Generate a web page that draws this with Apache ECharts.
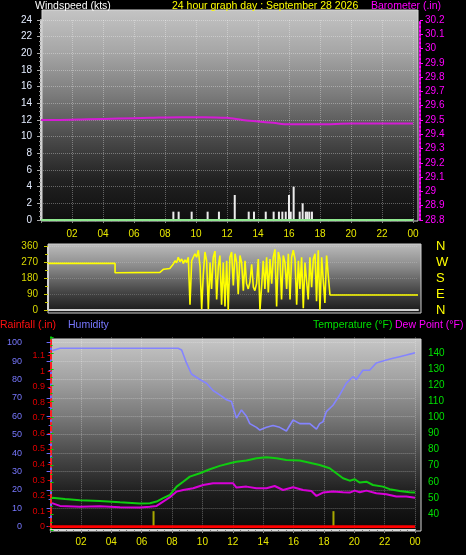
<!DOCTYPE html>
<html><head><meta charset="utf-8">
<script src="https://cdn.jsdelivr.net/npm/echarts@6/dist/echarts.min.js"></script>
<style>html,body{margin:0;padding:0;background:#000;}#c{width:466px;height:555px;}</style>
</head><body><div id="c"></div>
<script>
// ---- tick labels ----
const hourLabels = ['', '02', '04', '06', '08', '10', '12', '14', '16', '18', '20', '22', '00'];
const compassLabels = ['N', 'E', 'S', 'W', 'N']; // 0, 90, 180, 270, 360

// ---- windspeed (kts) ----
const windHours = [8.54, 8.88, 9.72, 10.75, 11.48, 12.5, 13.4, 13.74, 14.5, 15.01, 15.35, 15.57, 15.79, 16.0, 16.11, 16.3, 16.69, 16.88, 17.08, 17.18, 17.31, 17.48];
const windSpeed = [1, 1, 1, 1, 1, 3, 1, 1, 1, 1, 1, 1, 1, 3, 1, 4, 1, 2, 1, 1, 1, 1];
const avgHours = [0, 24];
const avgSpeed = [0, 0];

// ---- barometer (in) ----
const baroHours = [0, 1, 3, 5, 7, 9, 10.5, 12, 13, 14, 15, 16, 17, 18, 20, 22, 24];
const baroValues = [29.50, 29.50, 29.505, 29.51, 29.515, 29.52, 29.52, 29.515, 29.50, 29.49, 29.48, 29.47, 29.47, 29.47, 29.475, 29.475, 29.475];

// ---- wind direction (deg) ----
const dirHours = [0, 4.35, 4.35, 7.26, 7.5, 7.9, 8.13, 8.24, 8.34, 8.45, 8.56, 8.67, 8.78, 8.88, 8.99, 9.10, 9.21, 9.32, 9.42, 9.53, 9.64, 9.75, 9.86, 9.97, 10.07, 10.18, 10.29, 10.40, 10.51, 10.61, 10.72, 10.83, 10.94, 11.05, 11.15, 11.26, 11.37, 11.48, 11.59, 11.69, 11.80, 11.91, 12.02, 12.13, 12.24, 12.34, 12.45, 12.56, 12.67, 12.78, 12.88, 12.99, 13.10, 13.21, 13.32, 13.42, 13.53, 13.64, 13.75, 13.86, 13.96, 14.07, 14.18, 14.29, 14.40, 14.51, 14.61, 14.72, 14.83, 14.94, 15.05, 15.15, 15.26, 15.37, 15.48, 15.59, 15.70, 15.80, 15.91, 16.02, 16.13, 16.24, 16.34, 16.45, 16.56, 16.67, 16.78, 16.88, 16.99, 17.10, 17.21, 17.32, 17.42, 17.53, 17.64, 17.75, 17.86, 17.96, 18.07, 18.18, 18.29, 24];
const dirValues = [265, 265, 212, 214, 232, 236, 262, 280, 268, 300, 275, 290, 265, 285, 270, 300, 30, 280, 290, 320, 300, 340, 250, 5, 200, 330, 280, 5, 270, 120, 300, 335, 60, 250, 310, 30, 270, 20, 280, 0, 300, 330, 140, 320, 270, 90, 310, 270, 110, 280, 150, 120, 160, 260, 130, 110, 150, 290, 0, 140, 280, 120, 300, 100, 290, 150, 300, 345, 20, 330, 290, 60, 310, 270, 120, 320, 60, 300, 340, 290, 30, 280, 120, 300, 10, 270, 280, 60, 300, 130, 290, 320, 50, 340, 0, 300, 290, 40, 310, 320, 85, 85];

// ---- humidity (%) ----
const humHours = [0.09, 0.62, 8.4, 8.63, 8.95, 9.28, 9.83, 10.27, 10.7, 11.14, 11.59, 11.91, 12.24, 12.57, 12.9, 13.12, 13.56, 13.78, 14.22, 14.65, 15.09, 15.53, 15.97, 16.41, 17.07, 17.51, 17.72, 17.94, 18.16, 18.6, 19.04, 19.48, 19.91, 20.14, 20.57, 21.01, 21.45, 21.89, 22.11, 22.55, 22.99, 23.43, 23.86, 24];
const humValues = [95.6, 97, 97, 96, 89, 83, 80, 78, 74, 71.6, 69, 68, 59, 63.4, 60, 56, 54, 52.5, 54, 55, 54, 52, 58, 56, 56, 53, 56, 57, 62.5, 66, 71.6, 78, 81.5, 80, 85, 85, 89, 90, 90.6, 91.5, 92.4, 93.3, 94.2, 94.6];

// ---- temperature (F) ----
const tempHours = [0.09, 0.95, 1.93, 3.25, 4.57, 5.88, 6.54, 6.98, 7.41, 7.86, 8.3, 8.73, 9.17, 9.83, 10.49, 11.14, 11.8, 12.24, 12.9, 13.56, 14.22, 14.88, 15.53, 16.41, 17.07, 17.72, 18.38, 18.82, 19.26, 19.7, 20.03, 20.36, 20.8, 21.23, 21.89, 22.33, 22.99, 23.64, 24];
const tempValues = [50.1, 49.3, 48.5, 48, 47.2, 46.5, 46.7, 47.7, 49.8, 51.8, 57, 60, 63.2, 65.3, 67.8, 69.9, 71.5, 72.5, 73.2, 74.7, 75.3, 74.7, 73.6, 73.2, 71.9, 70.5, 68.4, 65.3, 62.2, 60.7, 61.6, 59.5, 60.1, 58, 57, 55.4, 54.3, 53.5, 53.3];

// ---- dew point (F) ----
const dewHours = [0.09, 0.62, 1.93, 3.25, 4.57, 5.88, 6.54, 6.98, 7.41, 7.86, 8.3, 8.73, 9.39, 10.05, 10.7, 11.36, 12.02, 12.24, 12.9, 13.56, 14.22, 14.76, 15.31, 15.97, 16.63, 17.18, 17.51, 17.94, 18.6, 19.26, 19.7, 20.03, 20.36, 20.8, 21.45, 22.11, 22.77, 23.43, 24];
const dewValues = [46.7, 45, 44.5, 44.8, 44.2, 44, 44.5, 45, 47.7, 50.4, 53.9, 54.9, 56, 58, 59.1, 59.1, 59.1, 56.4, 57, 56, 56, 57.4, 54.9, 56.6, 54.9, 54.3, 51.2, 53.3, 53.9, 53.5, 53.3, 54.5, 53.5, 54.5, 52.9, 52.3, 50.8, 50.8, 50.1];

// ---- rainfall (in) and sunrise / sunset markers ----
const rainHours = [0, 24];
const rainValues = [0, 0];
const sunHours = [6.78, 18.63];
const sunMarkValue = [0.1, 0.1];

const zip = (a, b) => a.map((v, i) => [v, b[i]]);
const FONT = 'Liberation Sans';
const grad = (stops) => new echarts.graphic.LinearGradient(0, 0, 0, 1, stops.map((c, i) => ({offset: i / (stops.length - 1), color: c})));
const split = {show: true, lineStyle: {color: 'rgba(255,255,255,0.32)', type: 'dotted', width: 1}};
const hourFmt = v => hourLabels[Math.round(v / 2)] || '';

const chart = echarts.init(document.getElementById('c'));
chart.setOption({
  backgroundColor: '#000',
  animation: false,
  grid: [
    {left: 41, top: 20, width: 372, height: 200},
    {left: 48, top: 246.7, width: 370, height: 63.3},
    {left: 50.6, top: 337.2, width: 364.4, height: 192.8},
    {left: 50.6, top: 342.7, width: 364.4, height: 184},
    {left: 50.6, top: 340.2, width: 364.4, height: 186.5}
  ],
  xAxis: [
    {gridIndex: 0, type: 'value', min: 0, max: 24, interval: 2,
     axisLine: {show: true, lineStyle: {color: '#e0e0e0', width: 2}},
     axisTick: {show: true, length: 3, lineStyle: {color: '#888'}},
     minorTick: {show: true, splitNumber: 4, length: 2, lineStyle: {color: '#777'}},
     axisLabel: {showMinLabel: false, color: '#e8e800', fontFamily: FONT, fontSize: 10, margin: 9, formatter: hourFmt},
     splitLine: split},
    {gridIndex: 1, type: 'value', min: 0, max: 24, interval: 2,
     axisLine: {show: true, lineStyle: {color: '#d0d0d0', width: 2}},
     axisTick: {show: false}, axisLabel: {show: false}, splitLine: {show: false}},
    {gridIndex: 2, type: 'value', min: 0, max: 24, interval: 2,
     axisLine: {show: true, lineStyle: {color: '#d8d8d8', width: 2}},
     axisTick: {show: true, length: 3, lineStyle: {color: '#888'}},
     minorTick: {show: true, splitNumber: 4, length: 2, lineStyle: {color: '#777'}},
     axisLabel: {showMinLabel: false, color: '#e8e800', fontFamily: FONT, fontSize: 10, margin: 7, formatter: hourFmt},
     splitLine: split},
    {gridIndex: 3, type: 'value', min: 0, max: 24, show: false},
    {gridIndex: 4, type: 'value', min: 0, max: 24, show: false}
  ],
  yAxis: [
    {gridIndex: 0, type: 'value', min: 0, max: 24, interval: 2, position: 'left',
     axisLine: {show: true, lineStyle: {color: '#d0d0d0', width: 2}},
     axisTick: {show: true, length: 4, lineStyle: {color: '#aaa'}},
     minorTick: {show: true, splitNumber: 4, length: 2, lineStyle: {color: '#999'}},
     axisLabel: {color: '#e4ecff', fontFamily: FONT, fontSize: 10, margin: 9},
     splitLine: split},
    {gridIndex: 0, type: 'value', min: 28.8, max: 30.2, interval: 0.1, position: 'right', offset: 7,
     axisLine: {show: true, lineStyle: {color: '#ff00ff', width: 2, type: 'dotted'}},
     axisTick: {show: true, length: 3, inside: false, lineStyle: {color: '#ff00ff'}},
     axisLabel: {color: '#ff00ff', fontFamily: FONT, fontSize: 10, margin: 5},
     splitLine: {show: false}},
    {gridIndex: 1, type: 'value', min: 0, max: 360, interval: 90, position: 'left',
     axisLine: {show: true, lineStyle: {color: '#d0d0d0', width: 2}},
     axisTick: {show: true, length: 4, lineStyle: {color: '#c8c800'}},
     minorTick: {show: true, splitNumber: 2, length: 3, lineStyle: {color: '#c8c800'}},
     axisLabel: {color: '#d8d800', fontFamily: FONT, fontSize: 10, margin: 10},
     splitLine: {show: true, lineStyle: {color: 'rgba(255,255,255,0.18)', type: 'dotted'}}},
    {gridIndex: 1, type: 'value', min: 0, max: 360, interval: 90, position: 'right',
     axisLine: {show: false}, axisTick: {show: false}, splitLine: {show: false},
     axisLabel: {color: '#ffff00', fontFamily: FONT, fontSize: 13, margin: 18, formatter: v => compassLabels[Math.round(v / 90)]}},
    {gridIndex: 2, type: 'value', min: 30, max: 150, interval: 10, position: 'right', offset: 7,
     axisLine: {show: true, lineStyle: {color: '#00d000', width: 2, type: 'dotted'}},
     axisTick: {show: true, length: 3, lineStyle: {color: '#00d000'}},
     minorTick: {show: true, splitNumber: 2, length: 2, lineStyle: {color: '#00d000'}},
     axisLabel: {showMinLabel: false, showMaxLabel: false, color: '#00e000', fontFamily: FONT, fontSize: 10, margin: 6},
     splitLine: {show: false}},
    {gridIndex: 3, type: 'value', min: 0, max: 100, interval: 10, position: 'left', offset: 20.6,
     axisLine: {show: true, lineStyle: {color: '#6a6aff', width: 2}},
     axisTick: {show: true, length: 4, lineStyle: {color: '#6a6aff'}},
     minorTick: {show: true, splitNumber: 2, length: 2, lineStyle: {color: '#6a6aff'}},
     axisLabel: {color: '#7878ff', fontFamily: FONT, fontSize: 9, margin: 8},
     splitLine: split},
    {gridIndex: 4, type: 'value', min: 0, max: 1.2, interval: 0.1, position: 'left', offset: 0.6,
     axisLine: {show: true, lineStyle: {color: '#ff2020', width: 2, type: 'dashed'}},
     axisTick: {show: true, length: 3, lineStyle: {color: '#e00000'}},
     axisLabel: {showMaxLabel: false, color: '#e00000', fontFamily: FONT, fontSize: 9, margin: 5},
     splitLine: {show: false}}
  ],
  graphic: {elements: [
    {type: 'rect', z: -10, silent: true, shape: {x: 42, y: 10, width: 376, height: 211},
     style: {fill: grad(['#c4c4c4', '#a6a6a6', '#7c7c7c', '#4c4c4c', '#222222', '#0e0e0e']), stroke: '#d8d8d8', lineWidth: 1}},
    {type: 'rect', z: -10, silent: true, shape: {x: 48, y: 244, width: 373, height: 69},
     style: {fill: grad(['#bcbcbc', '#8a8a8a', '#4a4a4a', '#151515']), stroke: '#cfcfcf', lineWidth: 1}},
    {type: 'rect', z: -10, silent: true, shape: {x: 51, y: 339, width: 370, height: 192},
     style: {fill: grad(['#c6c6c6', '#a4a4a4', '#7a7a7a', '#4a4a4a', '#1e1e1e', '#080808']), stroke: '#d8d8d8', lineWidth: 1}},
    {type: 'text', left: 35, top: 1, style: {text: 'Windspeed (kts)', fill: '#ffffff', font: '10.5px ' + FONT}},
    {type: 'text', left: 172, top: 1, style: {text: '24 hour graph day : September 28 2026', fill: '#ffff00', font: '10.5px ' + FONT}},
    {type: 'text', left: 371, top: 1, style: {text: 'Barometer (.in)', fill: '#ff00ff', font: '10.5px ' + FONT}},
    {type: 'text', left: 0, top: 320, style: {text: 'Rainfall (.in)', fill: '#ff1010', font: '10.5px ' + FONT}},
    {type: 'text', left: 68, top: 320, style: {text: 'Humidity', fill: '#7878ff', font: '10.5px ' + FONT}},
    {type: 'text', left: 313, top: 320, style: {text: 'Temperature (°F)', fill: '#00e000', font: '10.5px ' + FONT}},
    {type: 'text', left: 395, top: 320, style: {text: 'Dew Point (°F)', fill: '#ff00ff', font: '10.5px ' + FONT}}
  ]},
  series: [
    {name: 'Windspeed', type: 'bar', xAxisIndex: 0, yAxisIndex: 0, barWidth: 2, data: zip(windHours, windSpeed),
     itemStyle: {color: '#ececec'}, z: 3},
    {name: 'Avg', type: 'line', xAxisIndex: 0, yAxisIndex: 0, data: zip(avgHours, avgSpeed), symbol: 'none',
     lineStyle: {color: '#90e890', width: 2}, z: 4},
    {name: 'Barometer', type: 'line', xAxisIndex: 0, yAxisIndex: 1, data: zip(baroHours, baroValues), symbol: 'none', smooth: 0.3,
     lineStyle: {color: '#d41cd4', width: 2}},
    {name: 'Direction', type: 'line', xAxisIndex: 1, yAxisIndex: 2, data: zip(dirHours, dirValues), symbol: 'none',
     lineStyle: {color: '#ffff00', width: 1.6}},
    {name: 'Sun', type: 'bar', xAxisIndex: 4, yAxisIndex: 6, barWidth: 2, data: zip(sunHours, sunMarkValue),
     itemStyle: {color: '#a8a800'}, z: 2},
    {name: 'Humidity', type: 'line', xAxisIndex: 3, yAxisIndex: 5, data: zip(humHours, humValues), symbol: 'none',
     lineStyle: {color: '#8484ff', width: 1.6}},
    {name: 'Temperature', type: 'line', xAxisIndex: 2, yAxisIndex: 4, data: zip(tempHours, tempValues), symbol: 'none',
     lineStyle: {color: '#10cc10', width: 2}},
    {name: 'Dew Point', type: 'line', xAxisIndex: 2, yAxisIndex: 4, data: zip(dewHours, dewValues), symbol: 'none',
     lineStyle: {color: '#d800d8', width: 2}},
    {name: 'Rainfall', type: 'line', xAxisIndex: 4, yAxisIndex: 6, data: zip(rainHours, rainValues), symbol: 'none',
     lineStyle: {color: '#ff0000', width: 3}, z: 5}
  ]
});
</script></body></html>
